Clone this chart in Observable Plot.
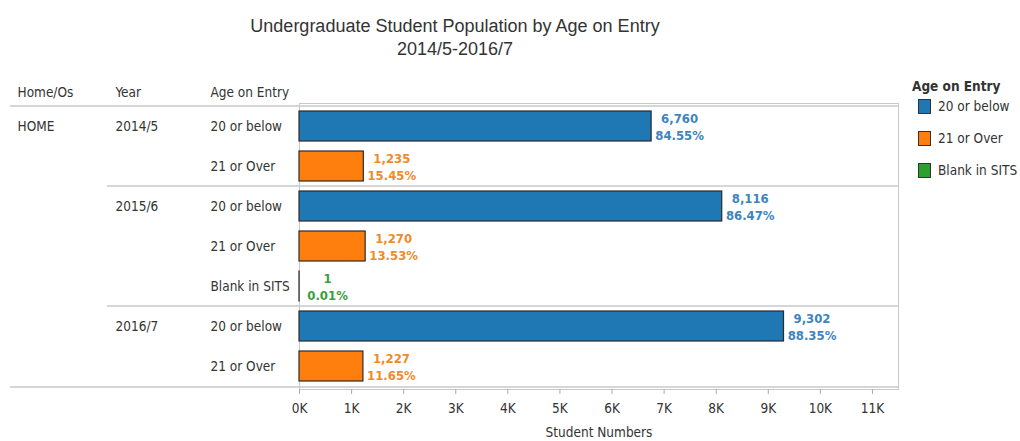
<!DOCTYPE html>
<html>
<head>
<meta charset="utf-8">
<script src="https://cdn.jsdelivr.net/npm/d3@7"></script>
<script src="https://cdn.jsdelivr.net/npm/@observablehq/plot@0.6"></script>
<style>
  html, body { margin: 0; padding: 0; background: #fff; }
  #wrap { position: relative; width: 1020px; height: 441px; overflow: hidden;
          font-family: "Liberation Sans Narrow", "Arial Narrow", "DejaVu Sans Condensed", sans-serif; color: #333; }
  #title { position: absolute; left: 0; top: 15px; width: 910px; text-align: center;
           font-family: "Liberation Sans", Arial, sans-serif; font-size: 18px; line-height: 23px; color: #333; }
  #legend { position: absolute; left: 912px; top: 77px; font-size: 13.5px; }
  #legend .lt { font-weight: bold; margin-bottom: -5px; line-height: 18px; }
  #legend .it { display: flex; align-items: center; height: 32px; margin-left: 6px; }
  #legend .sw { width: 13px; height: 15px; border: 1px solid #333; box-sizing: border-box; margin-right: 7px; }
  #chart { position: absolute; left: 0; top: 0; }
</style>
</head>
<body>
<div id="wrap">
  <div id="chart"></div>
  <div id="title"></div>
  <div id="legend"></div>
</div>
<script>
// ---- data ----
const titleLines = ["Undergraduate Student Population by Age on Entry", "2014/5-2016/7"];
const headers = ["Home/Os", "Year", "Age on Entry"];
const homeOs = ["HOME", "HOME", "HOME", "HOME", "HOME", "HOME", "HOME"];
const years = ["2014/5", "2014/5", "2015/6", "2015/6", "2015/6", "2016/7", "2016/7"];
const ages = ["20 or below", "21 or Over", "20 or below", "21 or Over", "Blank in SITS", "20 or below", "21 or Over"];
const counts = [6760, 1235, 8116, 1270, 1, 9302, 1227];
const shares = [84.55, 15.45, 86.47, 13.53, 0.01, 88.35, 11.65];
const ageCategories = ["20 or below", "21 or Over", "Blank in SITS"];
const barColors = ["#1f77b4", "#ff7f0e", "#2ca02c"];
const labelColors = ["#3d84c0", "#f08a2c", "#3a9e3a"];
const xTicks = [0, 1000, 2000, 3000, 4000, 5000, 6000, 7000, 8000, 9000, 10000, 11000];
const axisTitle = "Student Numbers";
const legendTitle = "Age on Entry";

// ---- table ----
const rows = years.map((y, i) => ({
  key: y + "|" + ages[i], home: homeOs[i], year: y, age: ages[i], count: counts[i], share: shares[i]
}));
const rowKeys = rows.map(d => d.key);
const yearFirst = rows.filter((d, i) => i === 0 || rows[i - 1].year !== d.year);
const homeFirst = rows.filter((d, i) => i === 0 || rows[i - 1].home !== d.home);
const groupStarts = yearFirst.slice(1);

const W = 1020, H = 441;
const mTop = 103, mBottom = 52, mLeft = 299, mRight = 122;
const step = (H - mTop - mBottom) / rowKeys.length;
const lineColor = "#c8c8c8";
const font = '"Liberation Sans Narrow", "Arial Narrow", "DejaVu Sans Condensed", sans-serif';

const labelColor = d3.scaleOrdinal(ageCategories, labelColors);

const chart = Plot.plot({
  width: W, height: H,
  marginTop: mTop, marginBottom: mBottom, marginLeft: mLeft, marginRight: mRight,
  style: { fontFamily: font, fontSize: "13.5px", color: "#333", background: "transparent" },
  x: { domain: [0, 11500], axis: null },
  y: { domain: rowKeys, paddingInner: 0.25, paddingOuter: 0.125, axis: null },
  color: { domain: ageCategories, range: barColors },
  marks: [
    Plot.frame({ stroke: lineColor }),
    // group separators and outer lines
    Plot.ruleY(groupStarts, { y: "key", dy: -step / 2, insetLeft: -(mLeft - 107), stroke: lineColor, strokeWidth: 1.5 }),
    Plot.ruleY(rows.slice(0, 1), { y: "key", dy: -step / 2, insetLeft: -(mLeft - 10), stroke: lineColor, strokeWidth: 1.5 }),
    Plot.ruleY(rows.slice(-1), { y: "key", dy: step / 2, insetLeft: -(mLeft - 10), stroke: lineColor, strokeWidth: 1.5 }),
    // bars
    Plot.barX(rows, { x: "count", y: "key", fill: "age", stroke: "#2b2b2b", strokeWidth: 1.2 }),
    // value labels
    Plot.text(rows, {
      x: "count", y: "key",
      text: d => d3.format(",")(d.count) + "\n" + d3.format(".2f")(d.share) + "%",
      fill: d => labelColor(d.age), dx: 28, textAnchor: "middle", lineHeight: 1.3,
      fontWeight: "bold", fontSize: 13
    }),
    // row header columns
    Plot.text(rows, { y: "key", text: "age", frameAnchor: "left", dx: -(mLeft - 210), textAnchor: "start", fill: "#333" }),
    Plot.text(yearFirst, { y: "key", text: "year", frameAnchor: "left", dx: -(mLeft - 115), textAnchor: "start", fill: "#333" }),
    Plot.text(homeFirst, { y: "key", text: "home", frameAnchor: "left", dx: -(mLeft - 17), textAnchor: "start", fill: "#333" }),
    // column headers
    Plot.text(headers.slice(0, 1), { text: d => d, frameAnchor: "top-left", dx: -(mLeft - 17), dy: -11, lineAnchor: "middle", textAnchor: "start", fill: "#333" }),
    Plot.text(headers.slice(1, 2), { text: d => d, frameAnchor: "top-left", dx: -(mLeft - 115), dy: -11, lineAnchor: "middle", textAnchor: "start", fill: "#333" }),
    Plot.text(headers.slice(2, 3), { text: d => d, frameAnchor: "top-left", dx: -(mLeft - 210), dy: -11, lineAnchor: "middle", textAnchor: "start", fill: "#333" }),
    // x axis
    Plot.axisX({ ticks: xTicks, tickFormat: d => d / 1000 + "K", tickSize: 5, tickPadding: 9,
                 stroke: "#aaa", fill: "#333", fontSize: 13.5, label: null }),
    Plot.text([axisTitle], { text: d => d, frameAnchor: "bottom", dy: 43, lineAnchor: "middle", fill: "#333", fontSize: 13.5 })
  ]
});
document.getElementById("chart").appendChild(chart);

// title
document.getElementById("title").innerHTML = titleLines.map(t => `<div>${t}</div>`).join("");

// legend
const lg = document.getElementById("legend");
lg.innerHTML = `<div class="lt">${legendTitle}</div>` +
  ageCategories.map((c, i) => `<div class="it"><div class="sw" style="background:${barColors[i]}"></div><span>${c}</span></div>`).join("");
</script>
</body>
</html>
